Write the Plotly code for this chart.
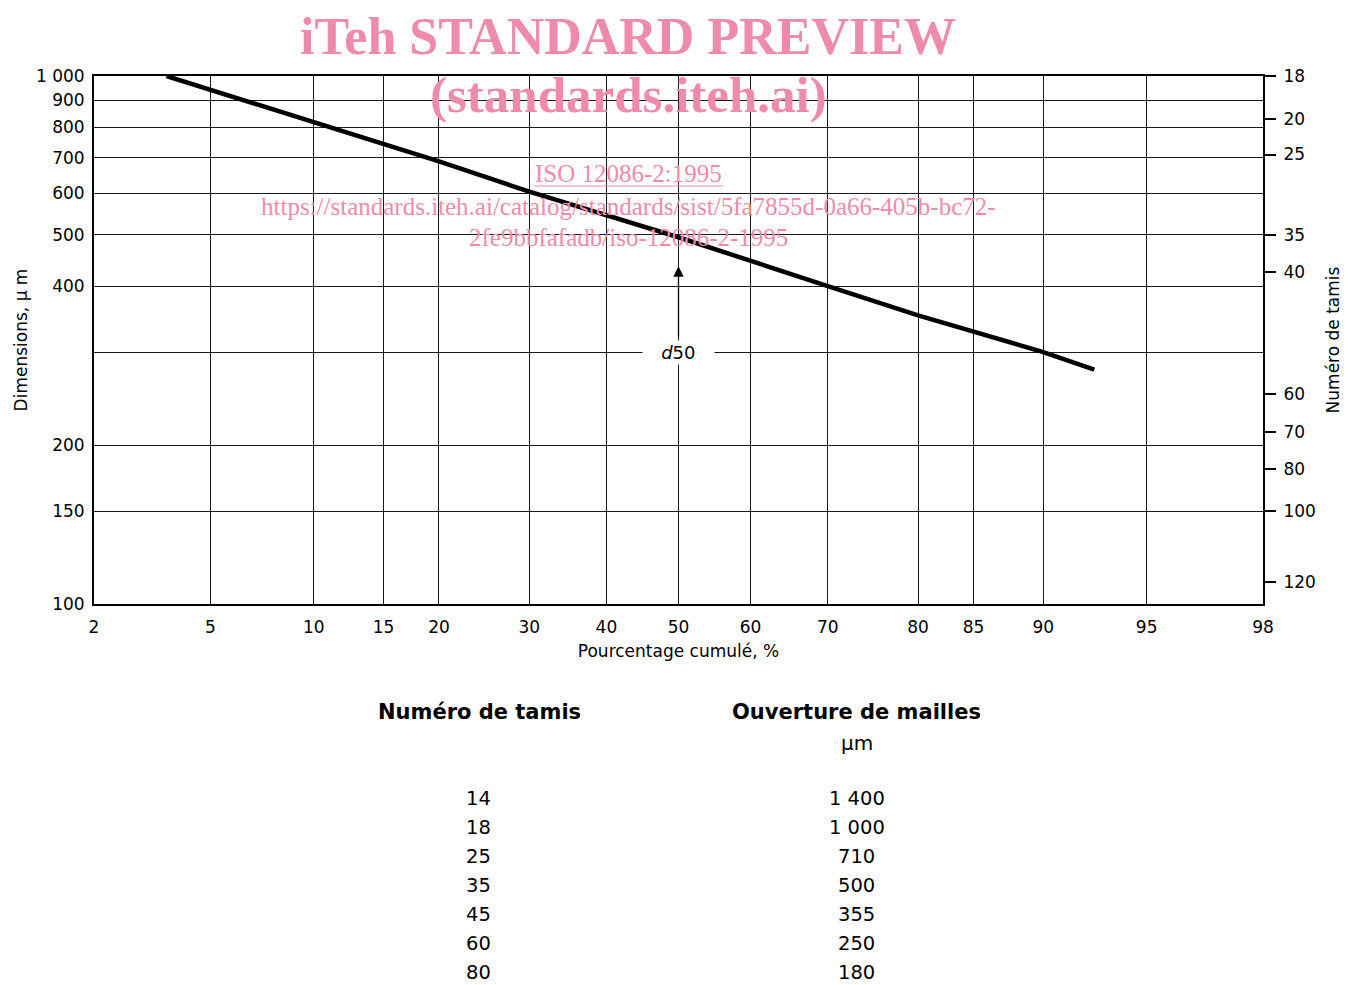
import math
from statistics import NormalDist
import plotly.graph_objects as go

# ---------------- data ----------------
pct_cumul = [3.6, 5, 10, 20, 30, 50, 70, 80, 90, 92.8]
size_um = [1000, 942, 817, 689, 604, 495, 400, 352, 300, 278]

x_ticks_pct = [2, 5, 10, 15, 20, 30, 40, 50, 60, 70, 80, 85, 90, 95, 98]
y_ticks_um = [100, 150, 200, 300, 400, 500, 600, 700, 800, 900, 1000]
y_ticks_text = ["100", "150", "200", "", "400", "500", "600", "700", "800", "900", "1 000"]

sieve_numbers = ["18", "20", "25", "35", "40", "60", "70", "80", "100", "120"]
sieve_positions_um = [1000, 830, 710, 500, 425, 250, 212, 180, 150, 110]

table_sieve = ["14", "18", "25", "35", "45", "60", "80"]
table_mesh = ["1 400", "1 000", "710", "500", "355", "250", "180"]

d50_pct = 50
d50_label_um = 300
d50_arrow_tip_um = 436
d50_arrow_tail_um = 318

# ---------------- helpers ----------------
nd = NormalDist()
def z(p):
    return nd.inv_cdf(p / 100.0)

OFF = 8  # page body margin
W, H = 1355 - OFF, 985 - OFF
L, T = 89 - OFF, 76 - OFF
R, B = 92, 381
PW, PH = W - L - R, H - T - B

def px(x):
    return (x - OFF - L) / PW

def py(y):
    return (T + PH - (y - OFF)) / PH

FONT = "DejaVu Sans"
PINK = "#EE8BAB"

fig = go.Figure()

fig.add_trace(go.Scatter(
    x=[z(p) for p in pct_cumul], y=size_um,
    mode="lines", line=dict(color="black", width=4.5),
    showlegend=False, hoverinfo="skip"))

# invisible trace for the right axis
fig.add_trace(go.Scatter(
    x=[z(50)], y=[500], yaxis="y2", mode="markers",
    marker=dict(opacity=0), showlegend=False, hoverinfo="skip"))

zr = [z(2), z(98)]

fig.update_layout(
    width=W, height=H,
    margin=dict(l=L, r=R, t=T, b=B, pad=0),
    paper_bgcolor="white", plot_bgcolor="white",
    font=dict(family=FONT, color="black", size=17),
    xaxis=dict(
        range=zr, tickmode="array",
        tickvals=[z(p) for p in x_ticks_pct],
        ticktext=[str(p) for p in x_ticks_pct],
        showgrid=True, gridcolor="#1a1a1a", gridwidth=1,
        zeroline=False, showline=True, linecolor="black", linewidth=2,
        mirror=True, ticks="", ticklabelstandoff=7,
        tickfont=dict(size=17),
        title=dict(text="Pourcentage cumulé, %", standoff=9, font=dict(size=17)),
    ),
    yaxis=dict(
        type="log", range=[2, 3], tickmode="array",
        tickvals=y_ticks_um, ticktext=y_ticks_text,
        showgrid=True, gridcolor="#1a1a1a", gridwidth=1,
        zeroline=False, showline=True, linecolor="black", linewidth=2,
        mirror=True, ticks="", ticklabelstandoff=4,
        tickfont=dict(size=17),
        title=dict(text="Dimensions, µ m", standoff=4, font=dict(size=17)),
    ),
    yaxis2=dict(
        type="log", range=[2, 3], overlaying="y", side="right",
        tickmode="array", tickvals=sieve_positions_um, ticktext=sieve_numbers,
        showgrid=False, zeroline=False, showline=False,
        ticks="outside", ticklen=12, tickwidth=2, tickcolor="black",
        ticklabelstandoff=4, tickfont=dict(size=17),
        title=dict(text="Numéro de tamis", standoff=12, font=dict(size=17)),
    ),
)

annotations = []

# d50 arrow and label
annotations.append(dict(
    x=z(d50_pct), y=math.log10(d50_arrow_tip_um), xref="x", yref="y",
    ax=z(d50_pct), ay=math.log10(d50_arrow_tail_um), axref="x", ayref="y",
    text="", showarrow=True, arrowhead=2, arrowsize=1.6, arrowwidth=1.3,
    arrowcolor="black"))
annotations.append(dict(
    x=z(d50_pct), y=math.log10(d50_label_um), xref="x", yref="y",
    text="\u00a0\u00a0\u00a0<i>d</i>50\u00a0\u00a0\u00a0", showarrow=False,
    bgcolor="white", borderpad=1, font=dict(size=18, family=FONT),
    xanchor="center", yanchor="middle"))

# watermark
wm = [
    ("<b>iTeh STANDARD PREVIEW</b>", 625, 36, 52),
    ("<b>(standards.iteh.ai)</b>", 626, 95, 51),
    ("ISO 12086-2:1995", 626, 173, 25),
    ("https://standards.iteh.ai/catalog/standards/sist/5fa7855d-0a66-405b-bc72-", 626, 206, 25),
    ("2fe9bbfafadb/iso-12086-2-1995", 626, 237, 25),
]
for txt, x, y, s in wm:
    annotations.append(dict(
        x=px(x), y=py(y), xref="paper", yref="paper", text=txt,
        showarrow=False, xanchor="center", yanchor="middle",
        font=dict(family="Liberation Serif", size=s, color=PINK)))

# table below
annotations.append(dict(x=px(476), y=py(712), xref="paper", yref="paper",
                        text="<b>Numéro de tamis</b>", showarrow=False,
                        xanchor="center", yanchor="middle", font=dict(size=21)))
annotations.append(dict(x=px(855), y=py(712), xref="paper", yref="paper",
                        text="<b>Ouverture de mailles</b>", showarrow=False,
                        xanchor="center", yanchor="middle", font=dict(size=21)))
annotations.append(dict(x=px(855), y=py(743), xref="paper", yref="paper",
                        text="µm", showarrow=False,
                        xanchor="center", yanchor="middle", font=dict(size=20)))
for i, (s, m) in enumerate(zip(table_sieve, table_mesh)):
    yy = 798 + i * 29.1
    annotations.append(dict(x=px(475), y=py(yy), xref="paper", yref="paper",
                            text=s, showarrow=False, xanchor="center",
                            yanchor="middle", font=dict(size=19.5)))
    annotations.append(dict(x=px(855), y=py(yy), xref="paper", yref="paper",
                            text=m, showarrow=False, xanchor="center",
                            yanchor="middle", font=dict(size=19.5)))

fig.update_layout(annotations=annotations)

# underline for ISO reference
fig.add_shape(type="line", xref="paper", yref="paper",
              x0=px(531), x1=px(721), y0=py(186), y1=py(186),
              line=dict(color=PINK, width=1.2))

fig.write_html("out.html")
